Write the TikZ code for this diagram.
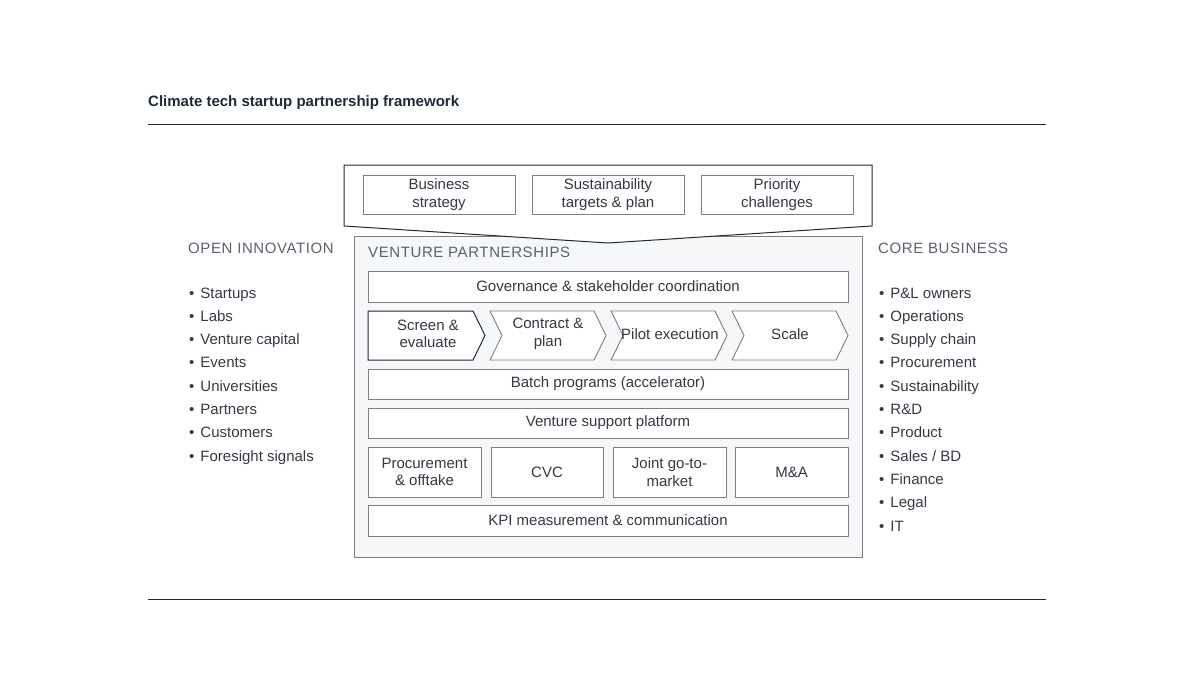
\documentclass[tikz,border=0pt]{standalone}
\usepackage{fontspec}
\setmainfont{Liberation Sans}
\usetikzlibrary{positioning}
\definecolor{navy}{HTML}{1E2A3A}
\definecolor{txt}{HTML}{333A44}
\definecolor{hd}{HTML}{5A626C}
\definecolor{bx}{HTML}{7A7F86}
\definecolor{vbg}{HTML}{F5F7F9}
\begin{document}
\begin{tikzpicture}[x=1pt,y=-1pt,
  f/.style={font=\fontsize{15}{17.5}\selectfont},
  box/.style={f,draw=bx,fill=white,line width=0.9pt,text=txt,align=center},
  lbl/.style={f,text=txt,anchor=base west,inner sep=0},
  head/.style={text=hd,font=\fontsize{15}{17}\selectfont\addfontfeature{LetterSpace=4},anchor=base west,inner sep=0},
  chev/.style={draw=bx,fill=white,line width=0.9pt}]
\useasboundingbox (0,0) rectangle (1200,675);
\node[anchor=base west,inner sep=0,text=navy,font=\fontsize{15}{18}\selectfont\bfseries] (title) at (148,106) {Climate tech startup partnership framework};
\coordinate (r1a) at (148,124); \coordinate (r1b) at (1046,124);
\coordinate (r2a) at (148,599); \coordinate (r2b) at (1046,599);
\draw[navy,line width=1pt] (r1a)--(r1b);
\draw[navy,line width=1pt] (r2a)--(r2b);
\draw[bx,fill=vbg,line width=0.9pt] (354,236) rectangle (862,557);
\draw[navy,fill=white,line width=1pt] (344,165)--(872,165)--(872,226)--(608,243)--(344,226)--cycle;
\node[box,minimum width=152,minimum height=39,inner sep=0] (bs) at (439,194.5) {Business\\strategy};
\node[box,minimum width=152,minimum height=39,inner sep=0] (st) at (608,194.5) {Sustainability\\targets \& plan};
\node[box,minimum width=152,minimum height=39,inner sep=0] (pc) at (777,194.5) {Priority\\challenges};
\node[head] (vp) at (368,257) {VENTURE PARTNERSHIPS};
\node[box,minimum width=480,minimum height=31,inner sep=0] (gov) at (608,286.5) {Governance \& stakeholder coordination};
\draw[navy,fill=white,line width=1pt] (368,311)--(473,311)--(485,335.5)--(473,360)--(368,360)--cycle;
\draw[chev] (490,311)--(594,311)--(606,335.5)--(594,360)--(490,360)--(502,335.5)--cycle;
\draw[chev] (611,311)--(715,311)--(727,335.5)--(715,360)--(611,360)--(623,335.5)--cycle;
\draw[chev] (732,311)--(836,311)--(848,335.5)--(836,360)--(732,360)--(744,335.5)--cycle;
\node[f,text=txt,align=center] (c1) at (428,334) {Screen \&\\evaluate};
\node[f,text=txt,align=center] (c2) at (548,334) {Contract \&\\plan};
\node[f,text=txt,align=center] (c3) at (670,334) {Pilot execution};
\node[f,text=txt,align=center] (c4) at (790,334) {Scale};
\node[box,minimum width=480,minimum height=30,inner sep=0] (bp) at (608,384) {Batch programs (accelerator)};
\node[box,minimum width=480,minimum height=30,inner sep=0] (vsp) at (608,423) {Venture support platform};
\node[box,minimum width=113,minimum height=50,inner sep=0] (po) at (424.5,472) {Procurement\\\& offtake};
\node[box,minimum width=112,minimum height=50,inner sep=0] (cvc) at (547,472) {CVC};
\node[box,minimum width=113,minimum height=50,inner sep=0] (jg) at (669.5,472) {Joint go-to-\\market};
\node[box,minimum width=113,minimum height=50,inner sep=0] (ma) at (791.5,472) {M\&A};
\node[box,minimum width=480,minimum height=31,inner sep=0] (kpi) at (608,520.5) {KPI measurement \& communication};
\node[head] (oi) at (188,253) {OPEN INNOVATION};
\node[head] (cb) at (878,253) {CORE BUSINESS};
\foreach \t [count=\i from 0] in {Startups,Labs,Venture capital,Events,Universities,Partners,Customers,Foresight signals}
  \node[lbl] (l\i) at (189,{298+23.3*\i}) {•\hspace{6pt}\t};
\foreach \t [count=\i from 0] in {P\&L owners,Operations,Supply chain,Procurement,Sustainability,R\&D,Product,Sales / BD,Finance,Legal,IT}
  \node[lbl] (r\i) at (879,{298+23.3*\i}) {•\hspace{6pt}\t};
\end{tikzpicture}
\end{document}
